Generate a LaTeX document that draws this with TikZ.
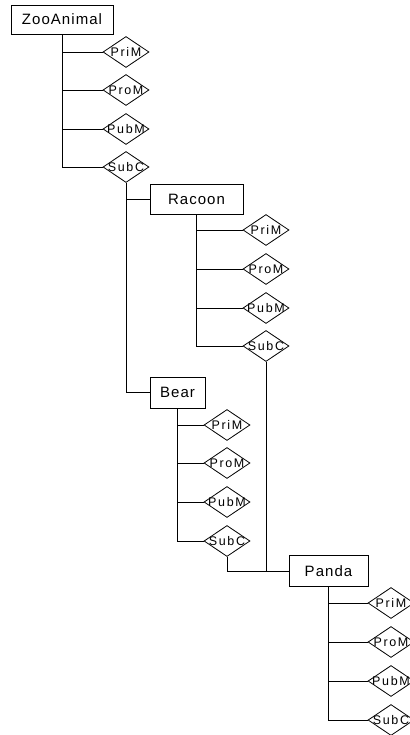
\documentclass[tikz,border=0pt]{standalone}
\usepackage{fontspec}
\setmainfont{Liberation Sans}
\newfontfamily\boxfont{Liberation Sans}[LetterSpace=7]
\newfontfamily\dmfont{Liberation Sans}[LetterSpace=13]
\usetikzlibrary{shapes.geometric}
\tikzset{
  cls/.style={draw, line width=0.8pt, inner sep=0pt, font=\boxfont\fontsize{15}{16}\selectfont},
  rel/.style={draw, diamond, line width=0.8pt, inner sep=0pt, minimum width=46pt, minimum height=31pt, font=\dmfont\fontsize{12.5}{13}\selectfont},
  conn/.style={line width=0.8pt}
}
\newcommand{\dl}[1]{\makebox[0pt]{#1}}
\begin{document}
\begin{tikzpicture}[x=1pt,y=-1pt]
\useasboundingbox (0,0) rectangle (409,735);
% classes
\node[cls, minimum width=102pt, minimum height=29pt] (zoo) at (62,19.5) {ZooAnimal};
\node[cls, minimum width=93pt, minimum height=30pt] (rac) at (196.5,199) {Racoon};
\node[cls, minimum width=55pt, minimum height=31pt] (bear) at (177.5,392.5) {Bear};
\node[cls, minimum width=79pt, minimum height=31pt] (panda) at (328.5,571) {Panda};
% ZooAnimal members
\node[rel] (z1) at (126,52) {\dl{PriM}};
\node[rel] (z2) at (126,90) {\dl{ProM}};
\node[rel] (z3) at (126,129) {\dl{PubM}};
\node[rel] (z4) at (126,167) {\dl{SubC}};
% Racoon members
\node[rel] (r1) at (266,230) {\dl{PriM}};
\node[rel] (r2) at (266,269) {\dl{ProM}};
\node[rel] (r3) at (266,308) {\dl{PubM}};
\node[rel] (r4) at (266,346) {\dl{SubC}};
% Bear members
\node[rel] (b1) at (227,425) {\dl{PriM}};
\node[rel] (b2) at (227,463) {\dl{ProM}};
\node[rel] (b3) at (227,502) {\dl{PubM}};
\node[rel] (b4) at (227,541) {\dl{SubC}};
% Panda members
\node[rel] (p1) at (391,603) {\dl{PriM}};
\node[rel] (p2) at (391,642) {\dl{ProM}};
\node[rel] (p3) at (391,681) {\dl{PubM}};
\node[rel] (p4) at (391,720) {\dl{SubC}};
% connectors
\foreach \i in {1,...,4}{
  \draw[conn] (zoo.south) |- (z\i.west);
  \draw[conn] (rac.south) |- (r\i.west);
  \draw[conn] (bear.south) |- (b\i.west);
  \draw[conn] (panda.south) |- (p\i.west);
}
\draw[conn] (z4.south) |- (rac.west);
\draw[conn] (z4.south) |- (bear.west);
\draw[conn] (r4.south) |- (panda.west);
\draw[conn] (b4.south) |- (panda.west);
\end{tikzpicture}
\end{document}
